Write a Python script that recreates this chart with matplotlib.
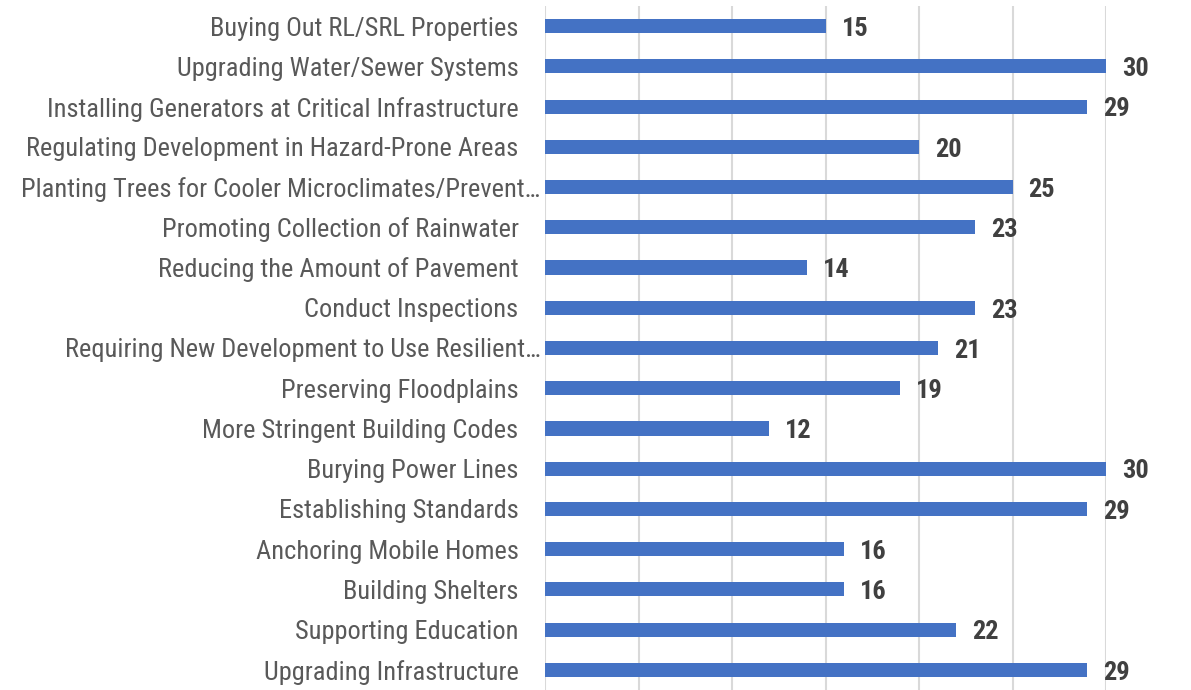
import numpy as np
import matplotlib
matplotlib.use("Agg")
import matplotlib.pyplot as plt
from matplotlib.transforms import ScaledTranslation

# data, top to bottom as in the chart
categories = [
    "Buying Out RL/SRL Properties",
    "Upgrading Water/Sewer Systems",
    "Installing Generators at Critical Infrastructure",
    "Regulating Development in Hazard-Prone Areas",
    "Planting Trees for Cooler Microclimates/Prevent\u2026",
    "Promoting Collection of Rainwater",
    "Reducing the Amount of Pavement",
    "Conduct Inspections",
    "Requiring New Development to Use Resilient\u2026",
    "Preserving Floodplains",
    "More Stringent Building Codes",
    "Burying Power Lines",
    "Establishing Standards",
    "Anchoring Mobile Homes",
    "Building Shelters",
    "Supporting Education",
    "Upgrading Infrastructure",
]
values = [15, 30, 29, 20, 25, 23, 14, 23, 21, 19, 12, 30, 29, 16, 16, 22, 29]

plt.rcParams['font.family'] = ['Roboto Condensed', 'DejaVu Sans']

fig = plt.figure(figsize=(11.91, 6.9), dpi=100)
ax = fig.add_axes([545/1191, 0, 561/1191, 684/690])

y = np.arange(len(categories))[::-1]
ax.barh(y, values, height=0.35, color='#4472C4', zorder=3)

for yi, v in zip(y, values):
    ax.annotate(str(v), (v, yi), xytext=(11.5, -2), textcoords='offset points',
                va='center', ha='left', fontsize=19, fontweight='bold', color='#404040',
                annotation_clip=False)

ax.set_xlim(0, 30)
ax.set_ylim(-0.5, len(categories) - 0.5)
ax.set_xticks(np.arange(0, 31, 5))
ax.set_yticks(y)
ax.set_yticklabels(categories, fontsize=19, color='#595959')
ax.tick_params(axis='y', length=0, pad=19)
ax.tick_params(axis='x', length=0, labelbottom=False)
ax.grid(axis='x', color='#d9d9d9', linewidth=1.5, zorder=0)
for s in ax.spines.values():
    s.set_visible(False)

# truncated labels sit closer to the axis, like the original
for lbl in ax.get_yticklabels():
    if lbl.get_text().endswith('\u2026'):
        lbl.set_transform(lbl.get_transform() + ScaledTranslation(0.22, 0, fig.dpi_scale_trans))

fig.savefig('out.png', dpi=100)
